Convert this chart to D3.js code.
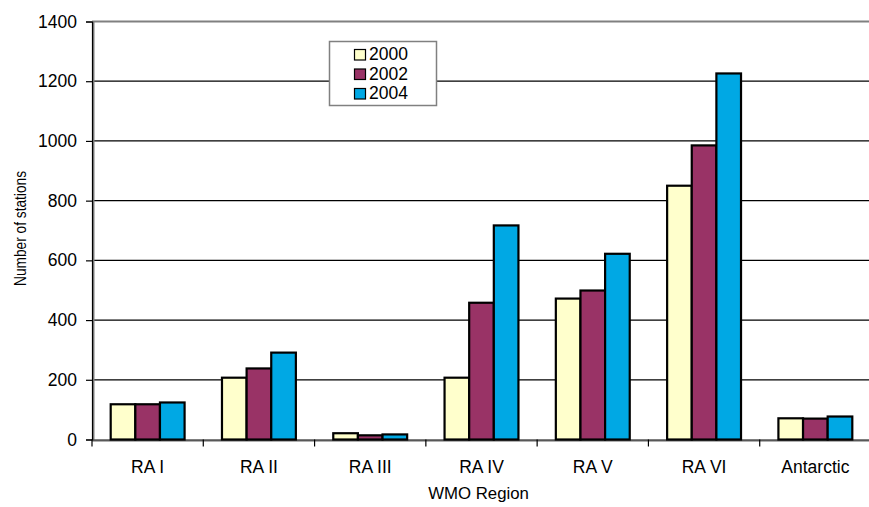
<!DOCTYPE html>
<html>
<head>
<meta charset="utf-8">
<script src="https://cdn.jsdelivr.net/npm/d3@7"></script>
<style>
  html, body { margin: 0; padding: 0; background: #fff; }
  svg { display: block; font-family: "Liberation Sans", Arial, sans-serif; }
</style>
</head>
<body>
<svg id="chart" width="869" height="507"></svg>
<script>
// Stations per WMO region, by year
const regions = ["RA I", "RA II", "RA III", "RA IV", "RA V", "RA VI", "Antarctic"];
const years = ["2000", "2002", "2004"];
const values2000 = [118, 207, 21, 207, 472, 850, 71];
const values2002 = [118, 238, 14, 458, 499, 985, 70];
const values2004 = [124, 291, 17, 717, 622, 1226, 77];
const yTicks = [0, 200, 400, 600, 800, 1000, 1200, 1400];
const colors = ["#FFFFCC", "#993366", "#00A8E4"];

const seriesByYear = [values2000, values2002, values2004];

const svg = d3.select("#chart");
const plot = { left: 92, right: 871, top: 21.5, bottom: 439.5 };

const y = d3.scaleLinear().domain([0, 1400]).range([plot.bottom, plot.top]);
const x0 = d3.scaleBand().domain(regions).range([plot.left, plot.right]).padding(0);
const step = x0.step();
const x1 = d3.scaleBand().domain(years).range([step * 0.168, step * 0.832]).padding(0);

// Horizontal gridlines
svg.append("g")
  .selectAll("line")
  .data(yTicks.filter(t => t > 0 && t < 1400))
  .join("line")
  .attr("x1", plot.left).attr("x2", plot.right)
  .attr("y1", d => y(d)).attr("y2", d => y(d))
  .attr("stroke", "#000").attr("stroke-width", 1.2);

// Plot area frame (grey)
svg.append("line")
  .attr("x1", plot.left).attr("x2", plot.right)
  .attr("y1", plot.top).attr("y2", plot.top)
  .attr("stroke", "#808080").attr("stroke-width", 2);
svg.append("line")
  .attr("x1", plot.left + 1.5).attr("x2", plot.left + 1.5)
  .attr("y1", plot.top).attr("y2", plot.bottom)
  .attr("stroke", "#808080").attr("stroke-width", 2);
svg.append("line")
  .attr("x1", plot.left).attr("x2", plot.right)
  .attr("y1", plot.bottom + 1.5).attr("y2", plot.bottom + 1.5)
  .attr("stroke", "#b0b0b0").attr("stroke-width", 2);

// Bars
const groups = svg.append("g")
  .selectAll("g")
  .data(regions)
  .join("g")
  .attr("transform", d => `translate(${x0(d)},0)`);

groups.selectAll("rect")
  .data((r, i) => years.map((yr, j) => ({ yr, j, v: seriesByYear[j][i] })))
  .join("rect")
  .attr("x", d => x1(d.yr))
  .attr("width", x1.bandwidth())
  .attr("y", d => y(d.v))
  .attr("height", d => plot.bottom - y(d.v))
  .attr("fill", d => colors[d.j])
  .attr("stroke", "#000")
  .attr("stroke-width", 2.2);

// Y axis
const yAxis = svg.append("g")
  .attr("transform", `translate(${plot.left},0)`)
  .call(d3.axisLeft(y).tickValues(yTicks).tickFormat(d3.format("d")).tickSize(6).tickPadding(9));
yAxis.select(".domain").attr("stroke", "#000").attr("stroke-width", 1.2);
yAxis.selectAll(".tick line").attr("stroke", "#000").attr("stroke-width", 1.2);
yAxis.selectAll(".tick text")
  .attr("font-size", 17.5).attr("fill", "#000")
  .attr("font-family", "Liberation Sans, Arial, sans-serif");

// X axis
const xAxis = svg.append("g")
  .attr("transform", `translate(0,${plot.bottom})`)
  .call(d3.axisBottom(x0).tickSize(0).tickPadding(21));
xAxis.select(".domain").attr("stroke", "#000").attr("stroke-width", 1.2);
xAxis.selectAll(".tick text")
  .attr("font-size", 17.5).attr("fill", "#000")
  .attr("font-family", "Liberation Sans, Arial, sans-serif");

// Category separator ticks
svg.append("g")
  .selectAll("line")
  .data(regions)
  .join("line")
  .attr("x1", d => x0(d)).attr("x2", d => x0(d))
  .attr("y1", plot.bottom).attr("y2", plot.bottom + 7)
  .attr("stroke", "#000").attr("stroke-width", 1.2);

// Axis titles
svg.append("text")
  .attr("x", 478.5).attr("y", 499)
  .attr("text-anchor", "middle")
  .attr("font-size", 16.8)
  .text("WMO Region");

svg.append("text")
  .attr("transform", `translate(25.5,${(plot.top + plot.bottom) / 2 - 2}) rotate(-90)`)
  .attr("text-anchor", "middle")
  .attr("font-size", 16)
  .attr("textLength", 115)
  .attr("lengthAdjust", "spacingAndGlyphs")
  .text("Number of stations");

// Legend
const legend = svg.append("g").attr("transform", "translate(329.5,41.5)");
legend.append("rect")
  .attr("width", 107).attr("height", 64)
  .attr("fill", "#fff").attr("stroke", "#808080").attr("stroke-width", 1.5);
const items = legend.selectAll("g.item")
  .data(years)
  .join("g")
  .attr("class", "item")
  .attr("transform", (d, i) => `translate(0,${i * 19.5})`);
items.append("rect")
  .attr("x", 25).attr("y", 8)
  .attr("width", 11).attr("height", 10.5)
  .attr("fill", (d, i) => colors[i])
  .attr("stroke", "#000").attr("stroke-width", 1.2);
items.append("text")
  .attr("x", 39.5).attr("y", 18.5)
  .attr("font-size", 17.5)
  .text(d => d);
</script>
</body>
</html>
